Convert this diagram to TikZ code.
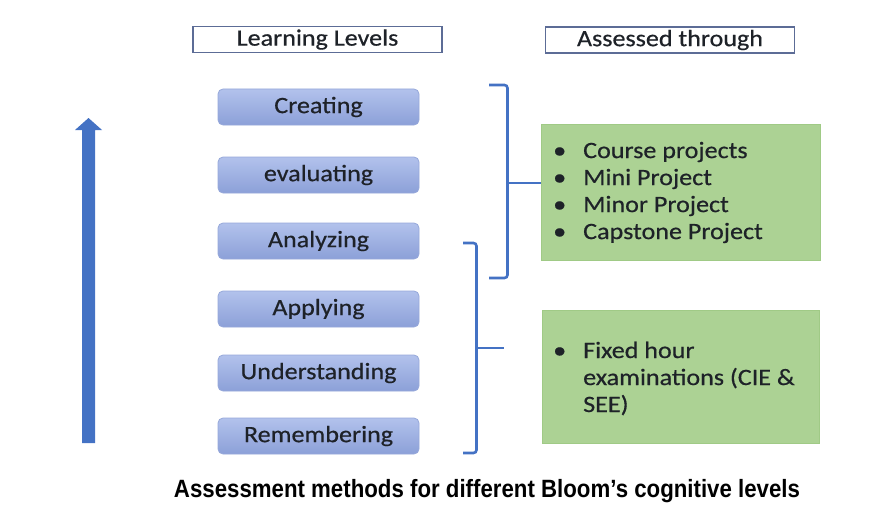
\documentclass[tikz,border=0pt]{standalone}
\usepackage{fontspec}
\setmainfont{Carlito}[FakeStretch=1.11,FakeBold=0.5]
\newfontfamily\capfont{Liberation Sans}[FakeStretch=0.89]
\usetikzlibrary{shapes.arrows}
\definecolor{brk}{RGB}{68,114,196}
\definecolor{lvtop}{RGB}{178,194,236}
\definecolor{lvbot}{RGB}{140,160,216}
\definecolor{lvedge}{RGB}{150,168,218}
\definecolor{grn}{RGB}{172,210,148}
\definecolor{grnedge}{RGB}{160,202,134}
\definecolor{hdredge}{RGB}{92,108,150}
\definecolor{txt}{RGB}{30,34,40}
\tikzset{
  hdrbox/.style={draw=hdredge, line width=1.1pt, fill=white, minimum width=249pt, minimum height=26pt, inner sep=0pt, text=txt, font=\fontsize{23.5}{26}\selectfont},
  lvbox/.style={draw=lvedge, line width=0.8pt, rounded corners=5pt, top color=lvtop, bottom color=lvbot, minimum width=201pt, minimum height=36pt, inner sep=0pt, text=txt, font=\fontsize{23.5}{26}\selectfont},
  grnbox/.style={draw=grnedge, line width=0.6pt, fill=grn, inner sep=0pt},
  grntext/.style={anchor=west, align=left, inner sep=0pt, text=txt, font=\fontsize{23.5}{27}\selectfont},
  brace/.style={draw=brk, line width=2.6pt, rounded corners=3pt},
  tick/.style={draw=brk, line width=2.6pt},
}
\newcommand{\bul}{\makebox[30pt][l]{\textbullet}}
\begin{document}
\begin{tikzpicture}[x=1pt,y=-1pt]
\useasboundingbox (0,0) rectangle (895,519);
% headers
\node[hdrbox] (hl) at (317.5,39.5) {Learning Levels};
\node[hdrbox] (ha) at (670,40) {Assessed through};
% levels
\node[lvbox] (l6) at (318.5,107) {Creating};
\node[lvbox] (l5) at (318.5,175) {evaluating};
\node[lvbox] (l4) at (318.5,241) {Analyzing};
\node[lvbox] (l3) at (318.5,309) {Applying};
\node[lvbox] (l2) at (318.5,373) {Understanding};
\node[lvbox] (l1) at (318.5,436) {Remembering};
% green boxes
\node[grnbox, minimum width=279pt, minimum height=136pt] (g1) at (680.5,192) {};
\node[grnbox, minimum width=277pt, minimum height=133pt] (g2) at (680.5,376.5) {};
\node[grntext] (t1) at (553,192.5) {\bul Course projects\\\bul Mini Project\\\bul Minor Project\\\bul Capstone Project};
\node[grntext] (t2) at (553,378.5) {\bul Fixed hour\\\hspace*{30pt}examinations (CIE \&\\\hspace*{30pt}SEE)};
% brackets
\coordinate (b1t) at (489,85);
\coordinate (b1b) at (489,278);
\coordinate (b1m) at (507.5,183);
\draw[brace] (b1t) -- (507.5,85) -- (507.5,278) -- (b1b);
\draw[tick] (b1m) -- (b1m -| g1.west);
\coordinate (b2t) at (463,243);
\coordinate (b2b) at (463,453);
\coordinate (b2m) at (476.5,348);
\draw[brace] (b2t) -- (476.5,243) -- (476.5,453) -- (b2b);
\draw[tick] (b2m) -- (504,348);
% arrow
\coordinate (abot) at (88.5,443);
\coordinate (atop) at (88.5,118);
\fill[brk] (82,443) -- (82,130) -- (75,130) -- (atop) -- (102,130) -- (95,130) -- (95,443) -- cycle;
% caption
\node[font=\capfont\bfseries\fontsize{25}{28}\selectfont, text=black, inner sep=0pt, anchor=base] (cap) at (487,497) {Assessment methods for different Bloom’s cognitive levels};
\end{tikzpicture}
\end{document}
